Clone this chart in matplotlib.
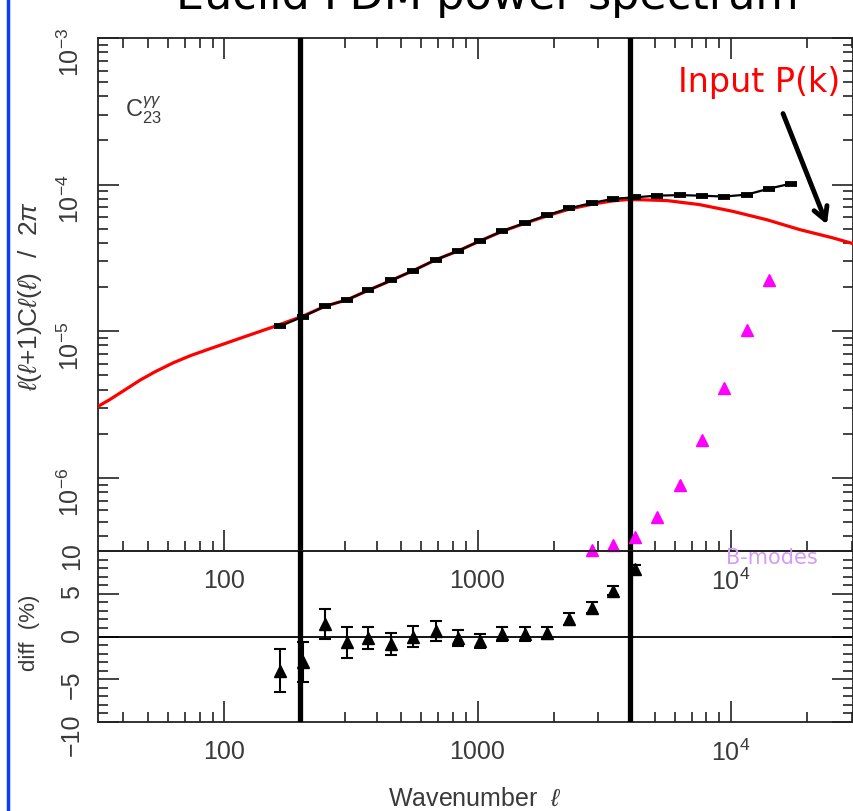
import matplotlib
matplotlib.use("Agg")
import matplotlib.pyplot as plt
from matplotlib.lines import Line2D
from matplotlib.ticker import LogLocator, MultipleLocator, NullFormatter, FixedLocator, FixedFormatter

plt.rcParams['font.family'] = ['Liberation Sans', 'DejaVu Sans']
plt.rcParams['mathtext.fontset'] = 'custom'
plt.rcParams['mathtext.rm'] = 'Liberation Sans'
plt.rcParams['mathtext.it'] = 'Liberation Sans:italic'
plt.rcParams['mathtext.bf'] = 'Liberation Sans:bold'

# measured shear power spectrum bins (C_23)
ell_bins = [166, 205, 250, 306, 370, 456, 557, 686, 838, 1023, 1250, 1540,
            1880, 2296, 2829, 3424, 4181, 5105, 6295, 7690, 9380, 11560, 14130, 17260]
cl_meas = [1.08e-5, 1.26e-5, 1.48e-5, 1.64e-5, 1.90e-5, 2.22e-5, 2.59e-5, 3.08e-5,
           3.53e-5, 4.13e-5, 4.81e-5, 5.48e-5, 6.18e-5, 6.89e-5, 7.50e-5, 8.0e-5,
           8.19e-5, 8.41e-5, 8.48e-5, 8.4e-5, 8.29e-5, 8.55e-5, 9.39e-5, 1.016e-4]

# input P(k) prediction
ell_th = [31.8, 35.5, 40.7, 46.7, 53.4, 63.0, 73.4, 85.7, 100, 115.6, 136, 161,
          205, 250, 306, 370, 456, 557, 686, 838, 1023, 1250, 1540, 1880, 2296,
          2829, 3424, 3870, 4500, 5600, 7500, 10130, 13800, 18700, 25000, 30300]
cl_th = [3.07e-6, 3.43e-6, 3.99e-6, 4.65e-6, 5.29e-6, 6.09e-6, 6.80e-6, 7.48e-6,
         8.20e-6, 8.95e-6, 9.86e-6, 1.09e-5, 1.27e-5, 1.48e-5, 1.64e-5, 1.90e-5,
         2.22e-5, 2.59e-5, 3.08e-5, 3.53e-5, 4.13e-5, 4.80e-5, 5.45e-5, 6.12e-5,
         6.80e-5, 7.35e-5, 7.75e-5, 7.9e-5, 7.88e-5, 7.78e-5, 7.31e-5, 6.58e-5,
         5.77e-5, 4.93e-5, 4.35e-5, 3.96e-5]

# B-modes
ell_b = [2829, 3424, 4181, 5105, 6295, 7690, 9380, 11560, 14130]
cl_b = [3.2e-7, 3.46e-7, 3.97e-7, 5.40e-7, 8.91e-7, 1.80e-6, 4.11e-6, 1.016e-5, 2.23e-5]

# residuals (%)
ell_diff = [166, 205, 250, 306, 370, 456, 557, 686, 838, 1023, 1250, 1540,
            1880, 2296, 2829, 3424, 4181]
diff = [-4.0, -3.0, 1.5, -0.7, -0.2, -0.9, 0.0, 0.7, -0.2, -0.5, 0.3, 0.3,
        0.4, 2.05, 3.35, 5.35, 7.85]
diff_err = [2.5, 2.35, 1.75, 1.8, 1.3, 1.27, 1.2, 1.17, 0.95, 0.84, 0.78, 0.78,
            0.75, 0.74, 0.64, 0.55, 0.55]

ell_cuts = [200, 4000]

W, H = 854, 812
fig = plt.figure(figsize=(W/100, H/100), dpi=100)
ax1 = fig.add_axes([98/W, 1-552/H, 755/W, 513/H])
ax2 = fig.add_axes([98/W, 1-723/H, 755/W, 171/H])
ax2.patch.set_visible(False)

tcol = '#3a3a3a'
for ax in (ax1, ax2):
    ax.set_xscale('log')
    ax.set_xlim(31.8, 30300)
    for s in ax.spines.values():
        s.set_linewidth(1.3)
        s.set_color('#222222')
    for lc in ell_cuts:
        ax.axvline(lc, color='black', lw=3.8, zorder=5)
    ax.tick_params(which='both', direction='in', right=True, width=1.2,
                   color='#222222', labelcolor=tcol, labelsize=18)
    ax.tick_params(which='major', length=15)
    ax.tick_params(which='minor', length=7)
    ax.tick_params(axis='y', labelrotation=90, pad=10)
    ax.xaxis.set_major_locator(FixedLocator([100, 1000, 10000]))
    ax.xaxis.set_major_formatter(FixedFormatter(['100', '1000', r'$10^4$']))
    ax.xaxis.set_minor_locator(LogLocator(base=10, subs=range(2, 10), numticks=20))
    ax.xaxis.set_minor_formatter(NullFormatter())

# top panel
ax1.set_yscale('log')
ax1.set_ylim(3.17e-7, 1e-3)
ax1.tick_params(which='both', top=True)
ax1.tick_params(axis='x', pad=12)
ax1.yaxis.set_major_locator(LogLocator(base=10, numticks=20))
ax1.yaxis.set_minor_locator(LogLocator(base=10, subs=range(2, 10), numticks=20))
ax1.yaxis.set_minor_formatter(NullFormatter())

ax1.plot(ell_th, cl_th, color='red', lw=2.3, zorder=3)
ax1.plot(ell_bins, cl_meas, color='black', lw=1.6, marker='_', ms=9, mew=4.2, zorder=4)
ax1.plot(ell_b, cl_b, ls='none', marker='^', ms=9, color='magenta', mec='magenta',
         clip_on=False, zorder=6)

# bottom panel
ax2.set_ylim(-10, 10)
ax2.yaxis.set_major_locator(MultipleLocator(5))
ax2.yaxis.set_minor_locator(MultipleLocator(1))
ax2.tick_params(axis='x', pad=12)
ax2.axhline(0, color='black', lw=1.3, zorder=2)
ax2.errorbar(ell_diff, diff, yerr=diff_err, fmt='^', color='black', ms=8,
             capsize=4, elinewidth=1.5, capthick=1.5, zorder=4)

# labels and annotations
fig.text(475/W, 1-799/H, r'Wavenumber  $\ell$', ha='center', va='center',
         fontsize=18, color=tcol)
fig.text(30/W, 1-296/H, r'$\ell(\ell$+1)C$\ell(\ell)$  /  2$\pi$', rotation=90,
         ha='center', va='center', fontsize=19, color=tcol)
fig.text(30/W, 1-633/H, 'diff  (%)', rotation=90, ha='center', va='center',
         fontsize=16, color=tcol)
fig.text(125/W, 1-110/H, r'C$^{\gamma\gamma}_{23}$', ha='left', va='center',
         fontsize=17, color=tcol)
fig.text(487/W, 1-9/H, 'Euclid FDM power spectrum', ha='center', va='baseline',
         fontsize=32, family='DejaVu Sans', color='black')
fig.text(678/W, 1-92/H, 'Input P(k)', ha='left', va='baseline', fontsize=24,
         family='DejaVu Sans', color='red')
fig.text(726/W, 1-558/H, 'B-modes', ha='left', va='center', fontsize=15,
         family='DejaVu Sans', color='#d49cf6')
ax1.annotate('', xy=(828, H-228), xytext=(782, H-112), xycoords='figure pixels',
             textcoords='figure pixels',
             arrowprops=dict(arrowstyle='->,head_length=0.9,head_width=0.5',
                             lw=3.5, color='black'))

fig.add_artist(Line2D([8/W, 8/W], [0, 1], color='#0a3cff', lw=2.5))

fig.savefig('out.png', dpi=100)
